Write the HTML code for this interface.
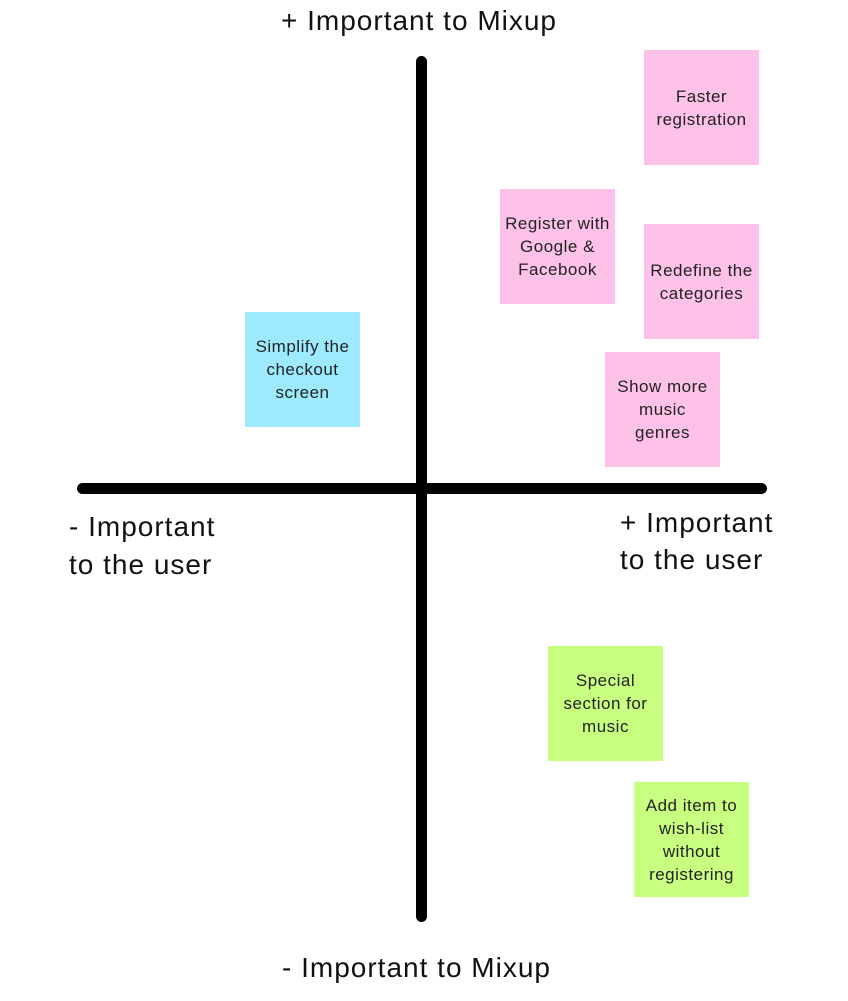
<!DOCTYPE html>
<html><head><meta charset="utf-8"><style>
body{margin:0;width:848px;height:1001px;background:#fff;position:relative;overflow:hidden;font-family:"Liberation Sans",sans-serif;}
.n{position:absolute;width:115px;height:115px;display:flex;align-items:center;justify-content:center;text-align:center;font-size:17px;letter-spacing:0.5px;line-height:23px;color:#222;}
.p{background:#fec2e8}.c{background:#9deaff}.g{background:#c9ff80}
.l{position:absolute;font-size:28px;letter-spacing:1px;color:#111;white-space:nowrap;line-height:38px;}
.bar{position:absolute;background:#000;border-radius:6px;}
</style></head><body>
<div class="bar" style="left:416px;top:56px;width:11px;height:866px"></div>
<div class="bar" style="left:77px;top:483px;width:690px;height:11px"></div>
<div class="l" style="left:281px;top:2px">+ Important to Mixup</div>
<div class="l" style="left:282px;top:949px">- Important to Mixup</div>
<div class="l" style="left:69px;top:508px">- Important<br>to the user</div>
<div class="l" style="left:620px;top:504px;line-height:37px">+ Important<br>to the user</div>
<div class="n p" style="left:644px;top:50px">Faster<br>registration</div>
<div class="n p" style="left:500px;top:189px">Register with<br>Google &amp;<br>Facebook</div>
<div class="n p" style="left:644px;top:224px">Redefine the<br>categories</div>
<div class="n p" style="left:605px;top:352px">Show more<br>music<br>genres</div>
<div class="n c" style="left:245px;top:312px">Simplify the<br>checkout<br>screen</div>
<div class="n g" style="left:548px;top:646px">Special<br>section for<br>music</div>
<div class="n g" style="left:634px;top:782px">Add item to<br>wish-list<br>without<br>registering</div>
</body></html>
